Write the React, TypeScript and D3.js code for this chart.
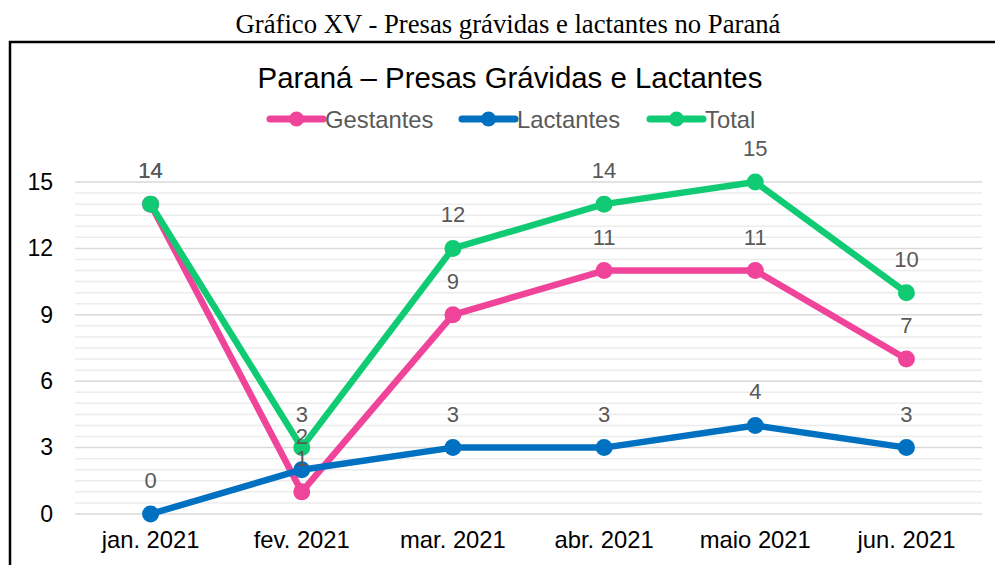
import React, { useEffect, useRef } from "react";
import * as d3 from "d3";

// categorias (meses) e séries
const months = ["jan. 2021", "fev. 2021", "mar. 2021", "abr. 2021", "maio 2021", "jun. 2021"];
const gestantes = [14, 1, 9, 11, 11, 7];
const lactantes = [0, 2, 3, 3, 4, 3];
const total = [14, 3, 12, 14, 15, 10];
const yTicks = [0, 3, 6, 9, 12, 15];

const series = [
  { name: "Gestantes", values: gestantes, color: "#EF4499" },
  { name: "Lactantes", values: lactantes, color: "#0070C0" },
  { name: "Total", values: total, color: "#10CB73" },
];

export default function App() {
  const svgRef = useRef<SVGSVGElement>(null);

  useEffect(() => {
    const width = 995;
    const height = 565;
    const plot = { left: 75, right: 982, top: 182, bottom: 514 };
    const sans = "'Liberation Sans', Arial, sans-serif";

    const svg = d3.select(svgRef.current);
    svg.selectAll("*").remove();
    svg.attr("width", width).attr("height", height);

    // título do documento
    svg.append("text")
      .attr("x", 508).attr("y", 33)
      .attr("text-anchor", "middle")
      .attr("font-family", "'Liberation Serif', 'Times New Roman', serif")
      .attr("font-size", 26.7)
      .attr("fill", "#000")
      .text("Gráfico XV - Presas grávidas e lactantes no Paraná");

    // moldura
    svg.append("path")
      .attr("d", `M10,${height} L10,42 L${width},42`)
      .attr("fill", "none")
      .attr("stroke", "#000")
      .attr("stroke-width", 2.5);

    // título do gráfico
    svg.append("text")
      .attr("x", 510).attr("y", 88)
      .attr("text-anchor", "middle")
      .attr("font-family", sans)
      .attr("font-size", 29.4)
      .attr("fill", "#000")
      .text("Paraná – Presas Grávidas e Lactantes");

    // legenda
    const legendX = [270, 462, 650];
    series.forEach((s, i) => {
      const g = svg.append("g").attr("transform", `translate(${legendX[i]},119)`);
      g.append("line").attr("x1", 0).attr("x2", 53).attr("y1", 0).attr("y2", 0)
        .attr("stroke", s.color).attr("stroke-width", 7).attr("stroke-linecap", "round");
      g.append("circle").attr("cx", 26.5).attr("cy", 0).attr("r", 7.5).attr("fill", s.color);
      g.append("text").attr("x", 55).attr("y", 8.5)
        .attr("font-family", sans).attr("font-size", 23.8).attr("fill", "#595959")
        .text(s.name);
    });

    const x = d3.scaleBand<string>().domain(months).range([plot.left, plot.right]).padding(0);
    const y = d3.scaleLinear().domain([0, 15]).range([plot.bottom, plot.top]);
    const cx = (m: string) => (x(m) as number) + x.bandwidth() / 2;

    // linhas de grade (secundárias a cada 0,5 e principais a cada 3)
    const minor = d3.range(0, 15.01, 0.5).filter(v => v % 3 !== 0);
    svg.append("g").selectAll("line").data(minor).enter().append("line")
      .attr("x1", plot.left).attr("x2", plot.right)
      .attr("y1", d => y(d)).attr("y2", d => y(d))
      .attr("stroke", "#ececec").attr("stroke-width", 1.5);
    svg.append("g").selectAll("line").data(yTicks).enter().append("line")
      .attr("x1", plot.left).attr("x2", plot.right)
      .attr("y1", d => y(d)).attr("y2", d => y(d))
      .attr("stroke", "#d9d9d9").attr("stroke-width", 1.5);

    // eixo Y
    const yAxis = svg.append("g")
      .attr("transform", `translate(${plot.left - 22},0)`)
      .call(d3.axisLeft(y).tickValues(yTicks).tickSize(0).tickPadding(0));
    yAxis.select(".domain").remove();
    yAxis.selectAll("text")
      .attr("font-family", sans).attr("font-size", 23).attr("fill", "#000");

    // eixo X
    const xAxis = svg.append("g")
      .attr("transform", `translate(0,${plot.bottom})`)
      .call(d3.axisBottom(x).tickSize(0).tickPadding(17));
    xAxis.select(".domain").remove();
    xAxis.selectAll("text")
      .attr("font-family", sans).attr("font-size", 23.8).attr("fill", "#000");

    // séries
    const line = d3.line<number>()
      .x((_, i) => cx(months[i]))
      .y(d => y(d));

    series.forEach(s => {
      svg.append("path")
        .datum(s.values)
        .attr("d", line)
        .attr("fill", "none")
        .attr("stroke", s.color)
        .attr("stroke-width", 6.5)
        .attr("stroke-linejoin", "round");
      svg.append("g").selectAll("circle").data(s.values).enter().append("circle")
        .attr("cx", (_, i) => cx(months[i]))
        .attr("cy", d => y(d))
        .attr("r", 8.5)
        .attr("fill", s.color);
    });

    // rótulos de dados
    series.forEach(s => {
      svg.append("g").selectAll("text").data(s.values).enter().append("text")
        .attr("x", (_, i) => cx(months[i]))
        .attr("y", d => y(d) - 26)
        .attr("text-anchor", "middle")
        .attr("font-family", sans)
        .attr("font-size", 22)
        .attr("fill", "#595959")
        .text(d => d);
    });
  }, []);

  return <svg ref={svgRef} style={{ position: "absolute", left: 0, top: 0 }}></svg>;
}
